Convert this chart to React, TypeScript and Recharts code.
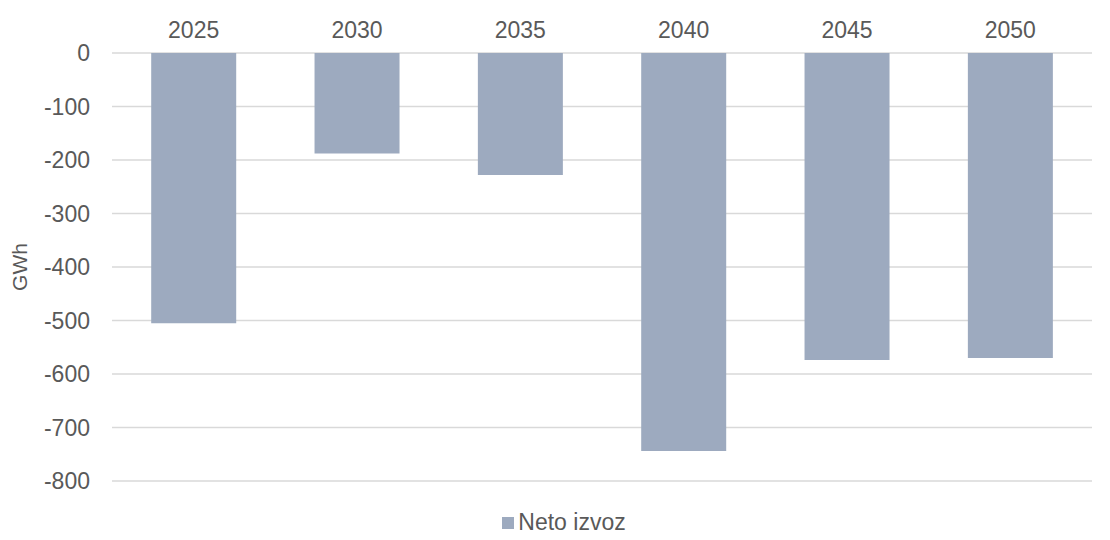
import React from 'react';
import { BarChart, Bar, XAxis, YAxis, CartesianGrid, Legend } from 'recharts';

const years = ['2025', '2030', '2035', '2040', '2045', '2050'];
const netExport = [-505, -188, -228, -744, -574, -570];
const yTicks = [0, -100, -200, -300, -400, -500, -600, -700, -800];

const data = years.map((year, i) => ({ year, value: netExport[i] }));

const textStyle = { fill: '#595959', fontSize: 23, fontFamily: 'Liberation Sans, Arial, sans-serif' };

export default function App() {
  return (
    <div style={{ margin: -8, width: 1110, height: 540, background: '#fff' }}>
      <BarChart
        width={1110}
        height={540}
        data={data}
        margin={{ top: 13, right: 18, left: 0, bottom: 32 }}
        barCategoryGap="24%"
      >
        <CartesianGrid horizontal vertical={false} stroke="#d9d9d9" strokeWidth={1.5} />
        <XAxis
          dataKey="year"
          orientation="top"
          height={40}
          axisLine={false}
          tickLine={false}
          tickSize={0}
          tickMargin={15}
          tick={textStyle}
        />
        <YAxis
          domain={[-800, 0]}
          ticks={yTicks}
          width={112}
          axisLine={false}
          tickLine={false}
          tickSize={0}
          tickMargin={22}
          tick={textStyle}
          label={{ value: 'GWh', angle: -90, position: 'insideLeft', offset: 20, style: { ...textStyle, fontSize: 21, textAnchor: 'middle' } }}
        />
        <Legend
          verticalAlign="bottom"
          content={() => (
            <div style={{ display: 'flex', justifyContent: 'center', alignItems: 'center', fontFamily: 'Liberation Sans, Arial, sans-serif', fontSize: 23, color: '#595959', paddingLeft: 36 }}>
              <span style={{ width: 12, height: 12, background: '#9daabf', display: 'inline-block', marginRight: 4 }} />
              Neto izvoz
            </div>
          )}
          wrapperStyle={{ bottom: 4 }}
        />
        <Bar dataKey="value" name="Neto izvoz" fill="#9daabf" isAnimationActive={false} />
      </BarChart>
    </div>
  );
}
